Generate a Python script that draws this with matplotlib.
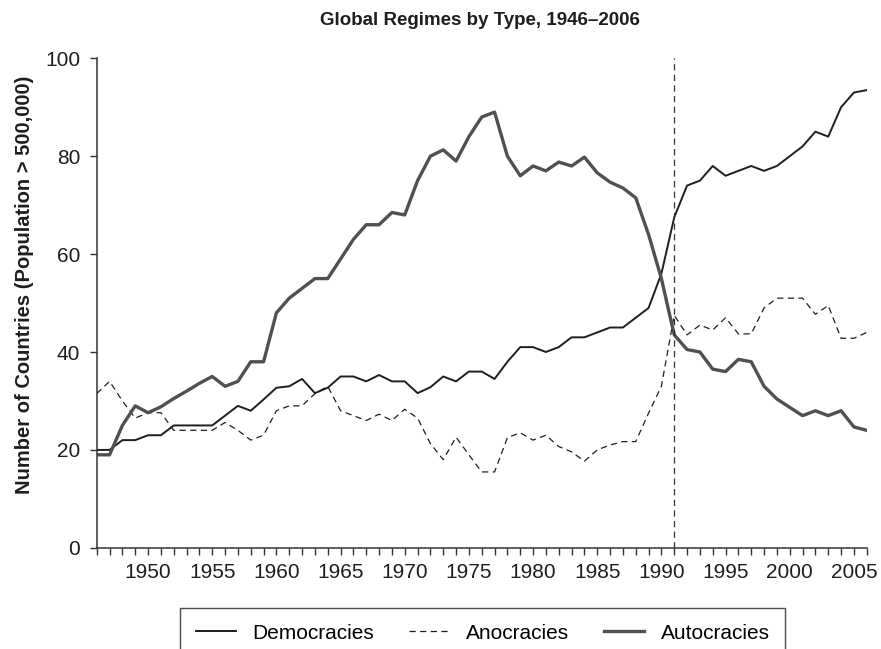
# Global regimes by type, 1946-2006

import numpy as np
import matplotlib
matplotlib.use("Agg")
import matplotlib.pyplot as plt

plt.rcParams["font.family"] = ["Liberation Sans", "DejaVu Sans"]

years = list(range(1946, 2007))

democracies = [
    20, 20, 22, 22, 23, 23, 25, 25, 25, 25,          # 1946-1955
    27, 29, 28, 30.3, 32.7, 33, 34.5, 31.6, 32.7, 35,  # 1956-1965
    35, 34, 35.3, 34, 34, 31.6, 32.8, 35, 34, 36,    # 1966-1975
    36, 34.5, 38, 41, 41, 40, 41, 43, 43, 44,        # 1976-1985
    45, 45, 47, 49, 56, 67.5, 74, 75, 78, 76,        # 1986-1995
    77, 78, 77, 78, 80, 82, 85, 84, 90, 93,          # 1996-2005
    93.5,                                            # 2006
]

anocracies = [
    31.5, 34, 30, 26.5, 27.6, 27.6, 24, 24, 24, 24,
    25.6, 24, 22, 23, 28, 29, 29, 31.5, 33, 28,
    27, 26, 27.3, 26, 28.3, 26.5, 21.3, 18, 22.6, 19,
    15.5, 15.5, 22.5, 23.5, 22, 23, 20.7, 19.6, 17.7, 20,
    21, 21.7, 21.7, 27.5, 33, 47.5, 43.5, 45.5, 44.5, 47,
    43.7, 43.7, 49, 51, 51, 51, 47.7, 49.5, 42.8, 42.8,
    44,
]

autocracies = [
    19, 19, 25, 29, 27.6, 28.8, 30.5, 32, 33.6, 35,
    33, 34, 38, 38, 48, 51, 53, 55, 55, 59,
    63, 66, 66, 68.5, 68, 75, 80, 81.3, 79, 84,
    88, 89, 80, 76, 78, 77, 78.8, 78, 79.8, 76.6,
    74.7, 73.5, 71.5, 64, 55, 43.5, 40.5, 40, 36.5, 36,
    38.5, 38, 33, 30.4, 28.7, 27, 28, 27, 28, 24.7,
    24,
]

cutoff_year = 1991

fig = plt.figure(figsize=(8.81, 6.49), dpi=100)
ax = fig.add_axes([0.1098, 0.1559, 0.874, 0.7543])

ax.plot(years, democracies, color="#1e1e1e", lw=1.4, label="Democracies")
ax.plot(years, anocracies, color="#1e1e1e", lw=0.9, ls=(0, (5, 3.5)), label="Anocracies")
ax.plot(years, autocracies, color="#505050", lw=2.4, label="Autocracies")
ax.plot([cutoff_year, cutoff_year], [0, 100], color="#333333", lw=0.9, ls=(0, (5, 3.5)))

ax.set_xlim(1946, 2006)
ax.set_ylim(0, 100)
ax.set_xticks(years)
ax.set_xticklabels([str(y) if y % 5 == 0 else "" for y in years])
ax.set_yticks([0, 20, 40, 60, 80, 100])

for side in ["top", "right"]:
    ax.spines[side].set_visible(False)
for side in ["left", "bottom"]:
    ax.spines[side].set_color("#333333")
    ax.spines[side].set_linewidth(1.1)

ax.tick_params(axis="both", direction="out", length=5, width=1.0, color="#333333",
               labelsize=15, labelcolor="#1e1e1e")
ax.tick_params(axis="x", pad=6)
ax.tick_params(axis="y", pad=7)

ax.set_ylabel("Number of Countries (Population > 500,000)", fontsize=14.5,
              fontweight="bold", color="#1e1e1e")
ax.yaxis.set_label_coords(-0.081, 0.537)
fig.text(0.545, 0.968, "Global Regimes by Type, 1946\u20132006", fontsize=13.5,
         fontweight="bold", ha="center", va="center", color="#1e1e1e")

leg = fig.legend(loc="upper center", bbox_to_anchor=(0.548, 0.0632), ncol=3,
                 fontsize=15, frameon=True, fancybox=False, edgecolor="#1e1e1e",
                 handlelength=1.9, handletextpad=0.8, columnspacing=1.7,
                 borderpad=0.75, borderaxespad=0)
leg.get_frame().set_linewidth(1.0)

plt.savefig("out.png", dpi=100)
